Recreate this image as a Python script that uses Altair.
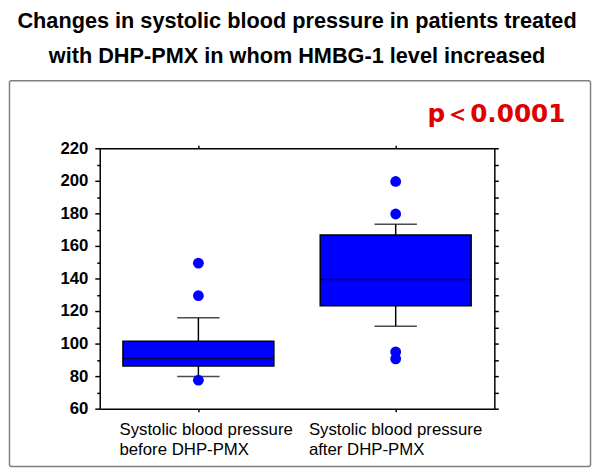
import altair as alt
import pandas as pd

# ---- data ----
categories = ["Systolic blood pressure before DHP-PMX", "Systolic blood pressure after DHP-PMX"]
q1 = [86.2, 123.2]
median = [90.8, 139.4]
q3 = [101.4, 166.7]
whisker_low = [79.8, 110.7]
whisker_high = [115.8, 173.3]

outlier_category = [categories[0], categories[0], categories[0],
                    categories[1], categories[1], categories[1], categories[1]]
outlier_value = [77.5, 129.4, 149.4, 179.6, 199.6, 94.9, 90.6]

y_ticks = [60, 70, 80, 90, 100, 110, 120, 130, 140, 150, 160, 170, 180, 190, 200, 210, 220]
title_lines = ["Changes in systolic blood pressure in patients treated",
               "with DHP-PMX in whom HMBG-1 level increased"]
p_value_label = "p＜0.0001"

box_df = pd.DataFrame({
    "category": categories,
    "q1": q1,
    "median": median,
    "q3": q3,
    "whisker_low": whisker_low,
    "whisker_high": whisker_high,
})
outlier_df = pd.DataFrame({"category": outlier_category, "value": outlier_value})

BLUE = "#0000FF"
AXIS_COMMON = dict(domainColor="black", domainWidth=1.5, tickColor="black",
                   tickWidth=1.5, grid=False, title=None)

x_scale = alt.Scale(domain=categories, paddingInner=0, paddingOuter=0)
y_scale = alt.Scale(domain=[60, 220], nice=False, zero=False)

x_plain = alt.X("category:N", scale=x_scale, axis=None, sort=categories)

bottom_axis = alt.Axis(
    orient="bottom", tickSize=3, labelAngle=0, labelAlign="left",
    labelOffset={"condition": {"test": "datum.value === '%s'" % categories[0], "value": -80}, "value": -88},
    labelPadding=10, labelFont="Liberation Sans", labelFontSize=17, labelColor="black",
    labelLineHeight=20, labelLimit=400, labelBaseline="top",
    labelExpr="[slice(datum.label, 0, 23), slice(datum.label, 24)]",
    **AXIS_COMMON)
top_axis = alt.Axis(orient="top", tickSize=3, labels=False, **AXIS_COMMON)
left_axis = alt.Axis(
    orient="left", values=y_ticks,
    tickSize={"condition": {"test": "datum.value % 20 === 0", "value": 5}, "value": 3},
    labelExpr="datum.value % 20 === 0 ? datum.label : ''",
    labelFont="Liberation Sans",
    labelFontSize=17, labelFontWeight="bold", labelColor="black", labelPadding=7,
    labelOverlap=False, **AXIS_COMMON)
right_axis = alt.Axis(orient="right", values=y_ticks, tickSize=4, labels=False, **AXIS_COMMON)

base = alt.Chart(box_df)

frame = alt.Chart(pd.DataFrame({"frame": [0]})).mark_rect(
    fill="transparent", stroke="#808080", strokeWidth=1.5, cornerRadius=2
).encode(x=alt.value(-91.5), x2=alt.value(497.5), y=alt.value(-68.5), y2=alt.value(322.5))

whiskers = base.mark_rule(color="black", strokeWidth=1.5).encode(
    x=x_plain,
    y=alt.Y("whisker_low:Q", scale=y_scale, axis=None),
    y2="whisker_high:Q",
)

boxes = base.mark_bar(size=153, fill=BLUE, stroke="black", strokeWidth=1.5).encode(
    x=alt.X("category:N", scale=x_scale, axis=bottom_axis, sort=categories),
    y=alt.Y("q1:Q", scale=y_scale, axis=left_axis),
    y2="q3:Q",
)

medians = base.mark_tick(size=153, thickness=1.5, color="black", orient="horizontal").encode(
    x=alt.X("category:N", scale=x_scale, axis=top_axis, sort=categories),
    y=alt.Y("median:Q", scale=y_scale, axis=right_axis),
)

caps = base.transform_fold(["whisker_low", "whisker_high"], as_=["end", "value"]).mark_tick(
    size=43, thickness=1.5, color="black", orient="horizontal"
).encode(
    x=x_plain,
    y=alt.Y("value:Q", scale=y_scale, axis=None),
)

points = alt.Chart(outlier_df).mark_circle(size=120, color=BLUE, opacity=1).encode(
    x=x_plain,
    y=alt.Y("value:Q", scale=y_scale, axis=None),
)

p_text = alt.Chart(pd.DataFrame({"label": [p_value_label]})).mark_text(
    align="right", baseline="alphabetic", font="DejaVu Sans", fontWeight="bold",
    fontSize=25, color="#E00000"
).encode(text="label:N", x=alt.value(472), y=alt.value(-27))

chart = alt.layer(frame, whiskers, boxes, medians, caps, points, p_text).resolve_scale(
    x="shared", y="shared"
).resolve_axis(
    x="independent", y="independent"
).properties(
    width=400, height=264,
    padding={"left": 93, "top": 139, "right": 99, "bottom": 60},
    autosize=alt.AutoSizeParams(type="none"),
    title=alt.TitleParams(
        text=title_lines, font="Liberation Sans", fontSize=22, fontWeight="bold",
        color="black", anchor="middle", frame="group", lineHeight=36, offset=12,
    ),
).configure_view(strokeWidth=0)

chart.save("out.html", embed_options={"renderer": "svg", "actions": False})
